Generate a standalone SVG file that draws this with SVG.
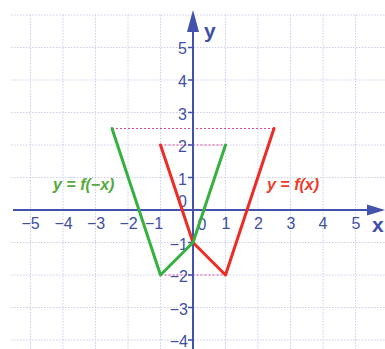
<svg xmlns="http://www.w3.org/2000/svg" width="385" height="349" viewBox="0 0 385 349">
<style>
.grid{stroke:#c9cfec;stroke-width:1;stroke-dasharray:1.5 1.5;fill:none}
.axis{stroke:#4252ad;stroke-width:2;fill:none}
.tick{stroke:#4252ad;stroke-width:1.5}
.guide{stroke:#e0479b;stroke-width:1.2;stroke-dasharray:2 2;fill:none}
.num{font-family:"Liberation Sans",Arial,sans-serif;font-size:16px;fill:#3f4fa6}
.yl{text-anchor:end}
.xl{text-anchor:middle}
.ax{font-family:"Liberation Sans",Arial,sans-serif;font-size:21px;font-weight:bold;fill:#3f4fa6}
.lbl{font-family:"Liberation Sans",Arial,sans-serif;font-size:16px;font-weight:bold;font-style:italic}
.red{stroke:#ee2b25;stroke-width:3;fill:none;stroke-linejoin:round;stroke-linecap:round}
.green{stroke:#36b03f;stroke-width:3;fill:none;stroke-linejoin:round;stroke-linecap:round}
</style>
<rect width="385" height="349" fill="#ffffff"/>
<g id="grid" class="grid">
<path d="M11 15H385M11 47.5H385M11 80H385M11 112.5H385M11 145H385M11 177.5H385M11 242.5H385M11 275H385M11 307.5H385M11 340H385"/>
<path d="M30.5 15V349M63 15V349M95.5 15V349M128 15V349M160.5 15V349M225.5 15V349M258 15V349M290.5 15V349M323 15V349M355.5 15V349"/>
</g>
<g id="guides" class="guide">
<line x1="112" y1="128.5" x2="274" y2="128.5"/>
<line x1="160.5" y1="145" x2="225.5" y2="145"/>
<line x1="160.5" y1="275" x2="225.5" y2="275"/>
</g>
<g id="axes">
<line class="axis" x1="13" y1="210" x2="372" y2="210"/>
<polygon points="385,210 367,204.5 367,215.5" fill="#4252ad"/>
<line class="axis" x1="193" y1="349" x2="193" y2="26"/>
<polygon points="193,10 187,32 199,32" fill="#4252ad"/>
<path class="tick" d="M188 47.5H193M188 80H193M188 112.5H193M188 145H193M188 177.5H193M188 242.5H193M188 275H193M188 307.5H193M188 340H193"/>
<text class="ax" x="204" y="38">y</text>
<text class="ax" x="372" y="232">x</text>
</g>
<g id="xlabels" class="num xl">
<text x="30.5" y="229">−5</text>
<text x="63.5" y="229">−4</text>
<text x="96" y="229">−3</text>
<text x="128.5" y="229">−2</text>
<text x="154" y="229">−1</text>
<text x="202" y="230">0</text>
<text x="226" y="229">1</text>
<text x="258.5" y="229">2</text>
<text x="291" y="229">3</text>
<text x="323" y="229">4</text>
<text x="356" y="229">5</text>
</g>
<g id="ylabels" class="num yl">
<text x="187" y="54">5</text>
<text x="187" y="87">4</text>
<text x="187" y="119.5">3</text>
<text x="187" y="152">2</text>
<text x="187" y="184.5">1</text>
<text x="187" y="207">0</text>
<text x="188" y="249.5">−1</text>
<text x="188" y="282">−2</text>
<text x="188" y="314.5">−3</text>
<text x="188" y="347">−4</text>
</g>
<g id="connectors">
<polyline id="f" class="red" points="160.5,145 193,242.5 225.5,275 274,128.5"/>
<polyline id="f-neg" class="green" points="225.5,145 193,242.5 160.5,275 112,128.5"/>
</g>
<g id="label-f">
<text class="lbl" x="267" y="190" fill="#ee3a2a">y = f(x)</text>
</g>
<g id="label-fneg">
<text class="lbl" x="53" y="190" fill="#55a93c">y = f(−x)</text>
</g>
</svg>
